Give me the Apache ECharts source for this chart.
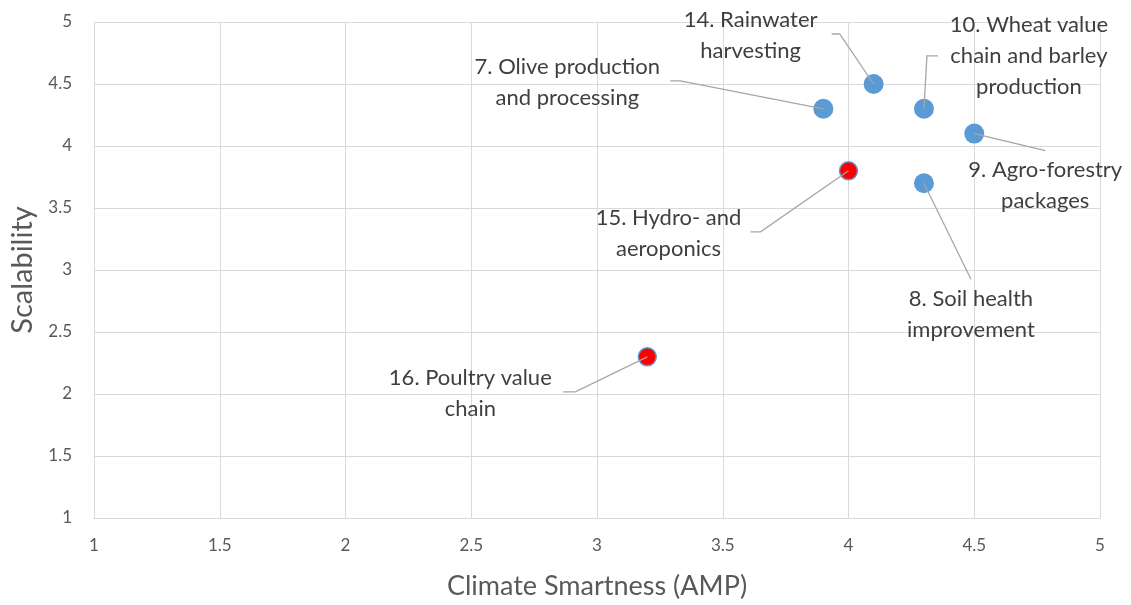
<!DOCTYPE html>
<html>
<head>
<meta charset="utf-8">
<title>Climate Smartness vs Scalability</title>
<script src="https://cdn.jsdelivr.net/npm/echarts@6/dist/echarts.min.js"></script>
<style>
  html, body { margin: 0; padding: 0; background: #ffffff; }
  #chart { width: 1131px; height: 605px; }
</style>
</head>
<body>
<div id="chart"></div>
<script>
// Practices scored on climate smartness (x) and scalability (y)
const practiceNames = [
  '7. Olive production\nand processing',
  '14. Rainwater\nharvesting',
  '10. Wheat value\nchain and barley\nproduction',
  '9. Agro-forestry\npackages',
  '15. Hydro- and\naeroponics',
  '8. Soil health\nimprovement',
  '16. Poultry value\nchain'
];
const climateSmartness = [3.9, 4.1, 4.3, 4.5, 4.0, 4.3, 3.2];
const scalability      = [4.3, 4.5, 4.3, 4.1, 3.8, 3.7, 2.3];
// Practices drawn in red
const flagged          = [false, false, false, false, true, false, true];

// Callout placement in pixels relative to each marker:
// text centre, then leader elbow and leader end next to the text.
const calloutLayout = [
  { text: [-256, -26], elbow: [-143, -28], end: [-153, -28] },
  { text: [-123, -49], elbow: [-34, -50],  end: [-42, -50] },
  { text: [105, -53],  elbow: [3, -53],    end: [14, -53] },
  { text: [71, 52],    elbow: [71, 17],    end: [71, 17] },
  { text: [-180, 63],  elbow: [-88, 61],   end: [-98, 61] },
  { text: [47, 131],   elbow: [47, 96],    end: [47, 96] },
  { text: [-177, 37],  elbow: [-72, 35],   end: [-84, 35] }
];

const FONT = 'Lato, "Open Sans", sans-serif';
const BLUE = '#5b9bd5';
const RED = '#ff0000';
const GRID = '#d9d9d9';

const points = climateSmartness.map((x, i) => [x, scalability[i], i]);
const bluePoints = points.filter(p => !flagged[p[2]]);
const redPoints = points.filter(p => flagged[p[2]]);

const chart = echarts.init(document.getElementById('chart'), null, { renderer: 'canvas' });

chart.setOption({
  backgroundColor: '#ffffff',
  animation: false,
  grid: { left: 94, right: 31, top: 22, bottom: 84, containLabel: false },
  xAxis: {
    type: 'value', min: 1, max: 5, interval: 0.5,
    name: 'Climate Smartness (AMP)', nameLocation: 'middle', nameGap: 55,
    nameTextStyle: { fontFamily: FONT, fontSize: 27, color: '#595959' },
    axisLine: { show: true, lineStyle: { color: GRID, width: 1 } },
    axisTick: { show: false },
    axisLabel: {
      fontFamily: FONT, fontSize: 17, color: '#595959', margin: 19,
      formatter: v => String(v)
    },
    splitLine: { show: true, lineStyle: { color: GRID, width: 1 } }
  },
  yAxis: {
    type: 'value', min: 1, max: 5, interval: 0.5,
    name: 'Scalability', nameLocation: 'middle', nameGap: 54,
    nameTextStyle: { fontFamily: FONT, fontSize: 29, color: '#595959' },
    axisLine: { show: true, lineStyle: { color: GRID, width: 1 } },
    axisTick: { show: false },
    axisLabel: {
      fontFamily: FONT, fontSize: 17, color: '#595959', margin: 22,
      formatter: v => String(v)
    },
    splitLine: { show: true, lineStyle: { color: GRID, width: 1 } }
  },
  series: [
    {
      name: 'Practices', type: 'scatter', symbol: 'circle', symbolSize: 20,
      itemStyle: { color: BLUE, opacity: 1 },
      data: bluePoints, z: 3
    },
    {
      name: 'Flagged', type: 'scatter', symbol: 'circle', symbolSize: 18,
      itemStyle: { color: RED, borderColor: BLUE, borderWidth: 1.5, opacity: 1 },
      data: redPoints, z: 3
    },
    {
      name: 'Callouts', type: 'custom', z: 5, silent: true,
      encode: { x: 0, y: 1 },
      data: points,
      renderItem: (params, api) => {
        const idx = api.value(2);
        const p = api.coord([api.value(0), api.value(1)]);
        const lay = calloutLayout[idx];
        const pts = [
          [p[0], p[1]],
          [p[0] + lay.elbow[0], p[1] + lay.elbow[1]],
          [p[0] + lay.end[0], p[1] + lay.end[1]]
        ];
        return {
          type: 'group',
          children: [
            {
              type: 'polyline',
              shape: { points: pts },
              style: { stroke: '#a6a6a6', lineWidth: 1.3, fill: null }
            },
            {
              type: 'text',
              x: p[0] + lay.text[0],
              y: p[1] + lay.text[1],
              style: {
                text: practiceNames[idx],
                fill: '#3f3f3f',
                font: '22px ' + FONT,
                fontSize: 22,
                fontFamily: FONT,
                lineHeight: 31,
                align: 'center',
                verticalAlign: 'middle',
                textAlign: 'center',
                textVerticalAlign: 'middle'
              }
            }
          ]
        };
      }
    }
  ]
});
</script>
</body>
</html>
